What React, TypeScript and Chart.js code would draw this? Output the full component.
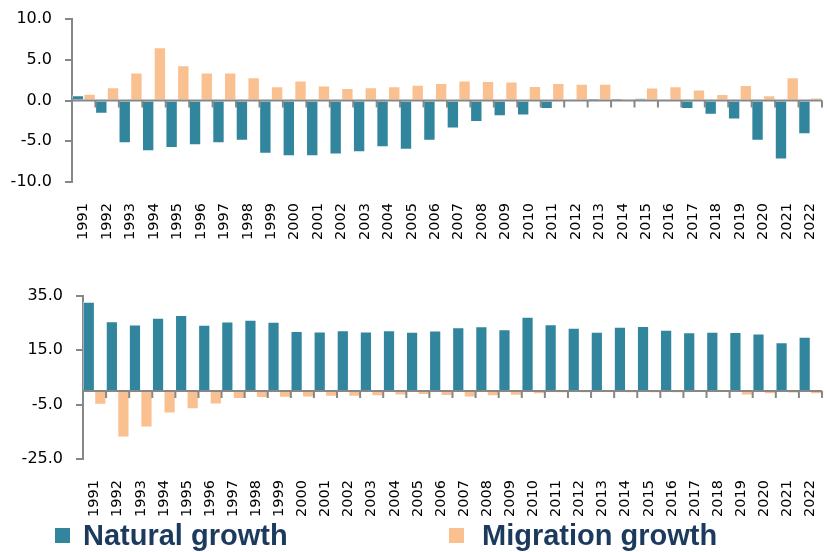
import React, { useEffect, useRef } from "react";
import { Chart, registerables } from "chart.js";

Chart.register(...registerables);

const years = [
  "1991", "1992", "1993", "1994", "1995", "1996", "1997", "1998", "1999", "2000",
  "2001", "2002", "2003", "2004", "2005", "2006", "2007", "2008", "2009", "2010",
  "2011", "2012", "2013", "2014", "2015", "2016", "2017", "2018", "2019", "2020",
  "2021", "2022",
];

// Top panel
const topNatural = [
  0.6, -1.6, -5.2, -6.2, -5.8, -5.45, -5.2, -4.9, -6.5, -6.8,
  -6.8, -6.6, -6.3, -5.7, -6.0, -4.9, -3.4, -2.6, -1.9, -1.8,
  -1.0, 0.0, 0.15, 0.15, 0.2, 0.0, -1.0, -1.7, -2.3, -4.9,
  -7.2, -4.1,
];
const topMigration = [
  0.8, 1.6, 3.4, 6.5, 4.3, 3.4, 3.4, 2.8, 1.7, 2.4,
  1.8, 1.5, 1.6, 1.7, 1.9, 2.1, 2.4, 2.35, 2.3, 1.75,
  2.1, 2.0, 2.0, 0.0, 1.55, 1.7, 1.3, 0.75, 1.85, 0.6,
  2.8, 0.3,
];

// Bottom panel
const bottomNatural = [
  32.8, 25.6, 24.4, 26.9, 27.9, 24.3, 25.5, 26.1, 25.4, 22.0,
  21.8, 22.3, 21.8, 22.3, 21.7, 22.2, 23.4, 23.7, 22.6, 27.2,
  24.5, 23.2, 21.7, 23.6, 23.8, 22.5, 21.5, 21.7, 21.6, 21.1,
  17.9, 19.9,
];
const bottomMigration = [
  -4.9, -17.0, -13.3, -8.1, -6.6, -4.8, -2.8, -2.4, -2.3, -2.2,
  -2.0, -2.0, -1.8, -1.5, -1.3, -1.7, -2.2, -1.8, -1.6, -1.0,
  -0.6, -0.6, -0.5, -0.7, -0.6, -0.6, -0.5, -0.5, -1.5, -1.0,
  -0.8, -1.0,
];

const topTicks = [-10, -5, 0, 5, 10];
const bottomTicks = [-25, -5, 15, 35];

const TEAL = "#31859C";
const ORANGE = "#FAC090";
const AXIS = "#878787";
const NAVY = "#1B3A5E";

const zeroAxisPlugin = {
  id: "zeroAxis",
  afterDatasetsDraw(chart: any) {
    const { ctx, scales, chartArea } = chart;
    const x = scales.x;
    const y = scales.y;
    const y0 = y.getPixelForValue(0);
    ctx.save();
    ctx.strokeStyle = AXIS;
    ctx.lineWidth = 2;
    ctx.beginPath();
    ctx.moveTo(chartArea.left, y0);
    ctx.lineTo(chartArea.right, y0);
    ctx.stroke();
    const n = chart.data.labels.length;
    const w = (chartArea.right - chartArea.left) / n;
    ctx.beginPath();
    for (let i = 0; i <= n; i++) {
      const px = i < n ? x.getPixelForValue(i) - w / 2 : x.getPixelForValue(n - 1) + w / 2;
      ctx.moveTo(px, y0);
      ctx.lineTo(px, y0 + 7);
    }
    ctx.stroke();
    ctx.restore();
  },
};

function makeConfig(
  natural: number[],
  migration: number[],
  ticks: number[],
  opts: { height: number; top: number; bottom: number; left: number; labelPad: number }
): any {
  const min = ticks[0];
  const max = ticks[ticks.length - 1];
  const step = ticks[1] - ticks[0];
  return {
    type: "bar",
    data: {
      labels: years,
      datasets: [
        {
          label: "Natural growth",
          data: natural,
          backgroundColor: TEAL,
          borderColor: "rgba(255,255,255,0.55)",
          borderWidth: 1,
          categoryPercentage: 1,
          barPercentage: 1,
        },
        {
          label: "Migration growth",
          data: migration,
          backgroundColor: ORANGE,
          borderColor: "rgba(255,255,255,0.55)",
          borderWidth: 1,
          categoryPercentage: 1,
          barPercentage: 1,
        },
      ],
    },
    options: {
      responsive: false,
      animation: false,
      layout: { padding: { top: opts.top, right: 5, left: 0, bottom: 0 } },
      plugins: { legend: { display: false }, tooltip: { enabled: false } },
      scales: {
        x: {
          grid: { display: false, drawTicks: false },
          border: { display: false },
          ticks: {
            autoSkip: false,
            maxRotation: 90,
            minRotation: 90,
            padding: opts.labelPad,
            color: "#000",
            font: { family: "DejaVu Sans", size: 14.5 },
          },
          afterFit(scale: any) {
            scale.height = opts.height - opts.bottom;
            scale.paddingLeft = 0;
            scale.paddingRight = 0;
          },
        },
        y: {
          min,
          max,
          ticks: {
            stepSize: step,
            padding: 13,
            color: "#000",
            font: { family: "DejaVu Sans", size: 16 },
            callback: (v: any) => Number(v).toFixed(1),
          },
          grid: {
            drawOnChartArea: false,
            drawTicks: true,
            tickLength: 7,
            color: AXIS,
            lineWidth: 2,
          },
          border: { display: true, color: AXIS, width: 2 },
          afterFit(scale: any) {
            scale.width = opts.left;
            scale.paddingTop = 0;
            scale.paddingBottom = 0;
          },
        },
      },
    },
    plugins: [zeroAxisPlugin],
  };
}

function BarPanel(props: {
  natural: number[];
  migration: number[];
  ticks: number[];
  height: number;
  top: number;
  bottom: number;
  left: number;
  labelPad: number;
  style: React.CSSProperties;
}) {
  const ref = useRef<HTMLCanvasElement | null>(null);
  useEffect(() => {
    if (!ref.current) return;
    const chart = new Chart(
      ref.current,
      makeConfig(props.natural, props.migration, props.ticks, {
        height: props.height,
        top: props.top,
        bottom: props.bottom,
        left: props.left,
        labelPad: props.labelPad,
      })
    );
    return () => chart.destroy();
  }, []);
  return (
    <canvas
      ref={ref}
      width={827}
      height={props.height}
      style={{ position: "absolute", display: "block", ...props.style }}
    />
  );
}

export default function App() {
  useEffect(() => {
    document.body.style.margin = "0";
  }, []);
  const legendText: React.CSSProperties = {
    position: "absolute",
    top: 519,
    fontFamily: "Liberation Sans, Arial, sans-serif",
    fontWeight: "bold",
    fontSize: 29,
    lineHeight: "33px",
    color: NAVY,
    whiteSpace: "nowrap",
  };
  return (
    <div style={{ position: "relative", width: 827, height: 552, background: "#fff", overflow: "hidden" }}>
      <BarPanel
        natural={topNatural}
        migration={topMigration}
        ticks={topTicks}
        height={250}
        top={19}
        bottom={182}
        left={72}
        labelPad={21}
        style={{ left: 0, top: 0 }}
      />
      <BarPanel
        natural={bottomNatural}
        migration={bottomMigration}
        ticks={bottomTicks}
        height={240}
        top={16}
        bottom={179}
        left={83}
        labelPad={21}
        style={{ left: 0, top: 280 }}
      />
      <div style={{ position: "absolute", left: 55, top: 528, width: 15, height: 15, background: TEAL }} />
      <div style={{ ...legendText, left: 83 }}>Natural growth</div>
      <div style={{ position: "absolute", left: 449, top: 528, width: 15, height: 15, background: ORANGE }} />
      <div style={{ ...legendText, left: 482 }}>Migration growth</div>
    </div>
  );
}
